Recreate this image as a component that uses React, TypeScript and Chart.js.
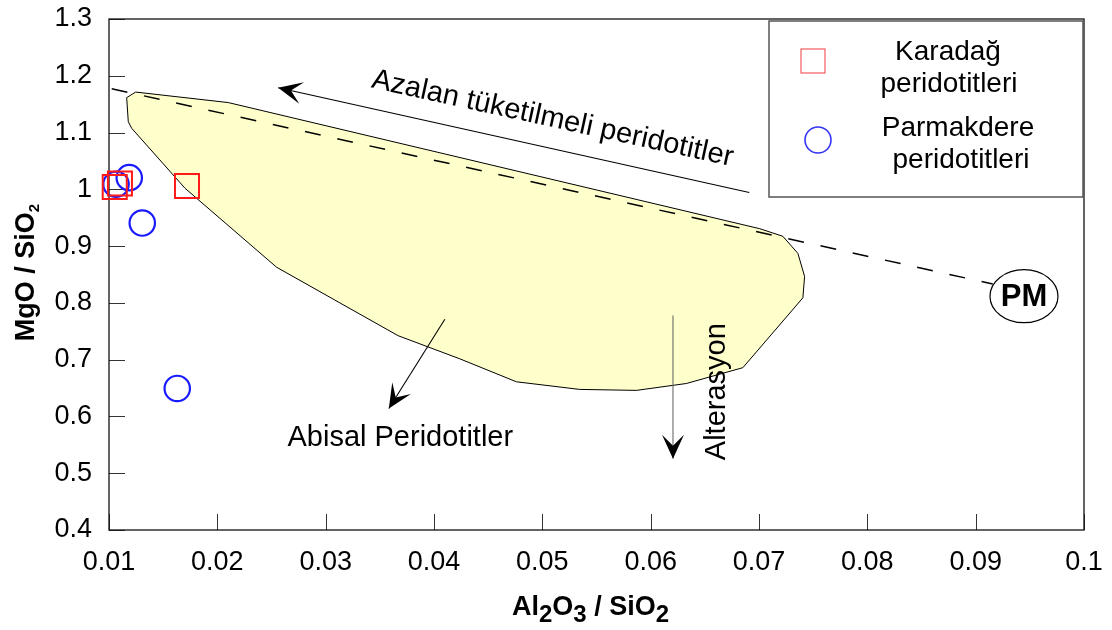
import React, { useEffect, useRef } from 'react';
import { Chart, registerables } from 'chart.js';

Chart.register(...registerables);

const FONT = "'Liberation Sans', Arial, Helvetica, sans-serif";

// ---- tick labels ----
const X_TICK_LABELS = ['0.01', '0.02', '0.03', '0.04', '0.05', '0.06', '0.07', '0.08', '0.09', '0.1'];
const Y_TICK_LABELS = ['0.4', '0.5', '0.6', '0.7', '0.8', '0.9', '1', '1.1', '1.2', '1.3'];

// ---- samples ----
const KARADAG_X = [0.01053, 0.01101, 0.0172];
const KARADAG_Y = [1.0042, 1.0102, 1.006];
const PARMAKDERE_X = [0.01065, 0.01187, 0.01307, 0.0163];
const PARMAKDERE_Y = [1.0089, 1.0206, 0.9406, 0.6493];

// ---- abyssal peridotite field (closed polygon) ----
const ABYSSAL_X = [0.01163, 0.01246, 0.02101, 0.07006, 0.0722, 0.07359, 0.07421, 0.07405, 0.06851, 0.06329, 0.05868, 0.05345, 0.04761, 0.04238, 0.03669, 0.02547, 0.01701, 0.01209, 0.01178, 0.01163];
const ABYSSAL_Y = [1.1615, 1.1713, 1.1528, 0.9307, 0.9173, 0.8872, 0.8466, 0.8089, 0.6859, 0.658, 0.6459, 0.6476, 0.661, 0.7015, 0.7422, 0.8628, 1.002, 1.1076, 1.1191, 1.1615];

// ---- depletion trend towards primitive mantle ----
const TREND_X = [0.01025, 0.09158];
const TREND_Y = [1.1772, 0.8332];
const PM_X = 0.09446;
const PM_Y = 0.8118;

// ---- annotations (data coordinates) ----
const ARROWS = [
  { x1: 0.0691, y1: 0.9945, x2: 0.02562, y2: 1.1789, color: '#000000' },
  { x1: 0.041, y1: 0.7711, x2: 0.03583, y2: 0.614, color: '#000000' },
  { x1: 0.06206, y1: 0.7776, x2: 0.06206, y2: 0.5253, color: '#6a6a6a' },
];
const NOTES = [
  { text: 'Azalan tüketilmeli peridotitler', x: 0.05078, y: 1.1104, angle: 12.3 },
  { text: 'Abisal Peridotitler', x: 0.03689, y: 0.548, angle: 0 },
  { text: 'Alterasyon', x: 0.0669, y: 0.6436, angle: -90 },
];

const toPts = (xs: number[], ys: number[]) => xs.map((x, i) => ({ x, y: ys[i] }));

function arrowHead(ctx: CanvasRenderingContext2D, x1: number, y1: number, x2: number, y2: number) {
  const a = Math.atan2(y2 - y1, x2 - x1);
  const L = 24, W = 11, N = 13;
  ctx.save();
  ctx.translate(x2, y2);
  ctx.rotate(a);
  ctx.beginPath();
  ctx.moveTo(0, 0);
  ctx.lineTo(-L, -W);
  ctx.lineTo(-N, 0);
  ctx.lineTo(-L, W);
  ctx.closePath();
  ctx.fillStyle = '#000';
  ctx.fill();
  ctx.restore();
}

function drawParts(ctx: CanvasRenderingContext2D, parts: [string, boolean][], mainFont: string, subFont: string, subDrop: number, cx: number, baseY: number) {
  let total = 0;
  const widths = parts.map(([t, sub]) => {
    ctx.font = sub ? subFont : mainFont;
    const w = ctx.measureText(t).width;
    total += w;
    return w;
  });
  let x = cx - total / 2;
  ctx.textAlign = 'left';
  ctx.textBaseline = 'alphabetic';
  parts.forEach(([t, sub], i) => {
    ctx.font = sub ? subFont : mainFont;
    ctx.fillText(t, x, baseY + (sub ? subDrop : 0));
    x += widths[i];
  });
}

const decorPlugin = {
  id: 'decor',
  beforeDatasetsDraw(chart: any) {
    const { ctx, chartArea: ca, scales } = chart;
    ctx.save();
    // inward tick marks
    ctx.strokeStyle = '#333';
    ctx.lineWidth = 1;
    scales.y.ticks.forEach((t: any) => {
      const py = Math.round(scales.y.getPixelForValue(t.value)) + 0.5;
      ctx.beginPath();
      ctx.moveTo(ca.left, py);
      ctx.lineTo(ca.left + 16, py);
      ctx.stroke();
    });
    scales.x.ticks.forEach((t: any) => {
      const px = Math.round(scales.x.getPixelForValue(t.value)) + 0.5;
      ctx.beginPath();
      ctx.moveTo(px, ca.bottom);
      ctx.lineTo(px, ca.bottom - 16);
      ctx.stroke();
    });
    // frame
    ctx.strokeStyle = '#111';
    ctx.lineWidth = 1.3;
    ctx.strokeRect(ca.left, ca.top, ca.right - ca.left, ca.bottom - ca.top);
    ctx.restore();
  },
  afterDatasetsDraw(chart: any) {
    const { ctx, chartArea: ca, scales } = chart;
    const X = (v: number) => scales.x.getPixelForValue(v);
    const Y = (v: number) => scales.y.getPixelForValue(v);
    ctx.save();
    // arrows
    ARROWS.forEach((a) => {
      const x1 = X(a.x1), y1 = Y(a.y1), x2 = X(a.x2), y2 = Y(a.y2);
      ctx.strokeStyle = a.color;
      ctx.lineWidth = 1.1;
      ctx.beginPath();
      ctx.moveTo(x1, y1);
      ctx.lineTo(x2, y2);
      ctx.stroke();
      arrowHead(ctx, x1, y1, x2, y2);
    });
    // notes
    ctx.fillStyle = '#000';
    ctx.font = `29px ${FONT}`;
    ctx.textAlign = 'center';
    ctx.textBaseline = 'alphabetic';
    NOTES.forEach((n) => {
      ctx.save();
      ctx.translate(X(n.x), Y(n.y));
      ctx.rotate((n.angle * Math.PI) / 180);
      ctx.fillText(n.text, 0, 0);
      ctx.restore();
    });
    // PM
    const px = X(PM_X), py = Y(PM_Y);
    ctx.beginPath();
    ctx.ellipse(px, py, 34, 26.5, 0, 0, Math.PI * 2);
    ctx.fillStyle = '#fff';
    ctx.fill();
    ctx.strokeStyle = '#000';
    ctx.lineWidth = 1.2;
    ctx.stroke();
    ctx.fillStyle = '#000';
    ctx.font = `bold 31px ${FONT}`;
    ctx.textAlign = 'center';
    ctx.textBaseline = 'middle';
    ctx.fillText('PM', px, py + 1);

    // legend
    const bx = ca.right - 315, by = ca.top + 2, bw = 314, bh = 176;
    ctx.fillStyle = '#fff';
    ctx.fillRect(bx, by, bw, bh);
    ctx.strokeStyle = '#555';
    ctx.lineWidth = 1.5;
    ctx.strokeRect(bx, by, bw, bh);
    const ds = chart.data.datasets;
    // square marker
    ctx.strokeStyle = '#F26a6a';
    ctx.lineWidth = 1.3;
    ctx.strokeRect(bx + 32, by + 28, 24, 24);
    // circle marker
    ctx.strokeStyle = '#3535F5';
    ctx.lineWidth = 1.6;
    ctx.beginPath();
    ctx.arc(bx + 49, by + 119, 13, 0, Math.PI * 2);
    ctx.stroke();
    ctx.fillStyle = '#000';
    ctx.font = `28px ${FONT}`;
    ctx.textAlign = 'center';
    ctx.textBaseline = 'alphabetic';
    const l1 = String(ds[0].label).split(' ');
    const l2 = String(ds[1].label).split(' ');
    ctx.fillText(l1[0], bx + 179, by + 39);
    ctx.fillText(l1[1], bx + 180, by + 71);
    ctx.fillText(l2[0], bx + 189, by + 115);
    ctx.fillText(l2[1], bx + 192, by + 147);

    // axis titles
    drawParts(
      ctx,
      [['Al', false], ['2', true], ['O', false], ['3', true], [' / SiO', false], ['2', true]],
      `bold 27px ${FONT}`,
      `bold 24px ${FONT}`,
      7,
      (ca.left + ca.right) / 2 - 6,
      ca.bottom + 85,
    );
    ctx.save();
    ctx.translate(34, (ca.top + ca.bottom) / 2 - 2);
    ctx.rotate(-Math.PI / 2);
    drawParts(
      ctx,
      [['MgO / SiO', false], ['2', true]],
      `bold 27px ${FONT}`,
      `bold 15px ${FONT}`,
      5,
      0,
      0,
    );
    ctx.restore();
    ctx.restore();
  },
};

export default function App() {
  const ref = useRef<HTMLCanvasElement>(null);
  useEffect(() => {
    if (!ref.current) return;
    Chart.defaults.font.family = FONT;
    const chart = new Chart(ref.current, {
      type: 'scatter',
      data: {
        datasets: [
          {
            label: 'Karadağ peridotitleri',
            data: toPts(KARADAG_X, KARADAG_Y),
            pointStyle: 'rect',
            pointRadius: 17,
            borderColor: '#FF1A1A',
            backgroundColor: 'rgba(0,0,0,0)',
            borderWidth: 2,
            clip: false,
          } as any,
          {
            label: 'Parmakdere peridotitleri',
            data: toPts(PARMAKDERE_X, PARMAKDERE_Y),
            pointStyle: 'circle',
            pointRadius: 12.7,
            borderColor: '#1A1AFF',
            backgroundColor: 'rgba(0,0,0,0)',
            borderWidth: 2.2,
            clip: false,
          } as any,
          {
            label: 'trend',
            data: toPts(TREND_X, TREND_Y),
            showLine: true,
            borderColor: '#000',
            borderWidth: 1.5,
            borderDash: [16, 17],
            pointRadius: 0,
            fill: false,
          } as any,
          {
            label: 'Abisal peridotit alanı',
            data: toPts(ABYSSAL_X, ABYSSAL_Y),
            showLine: true,
            fill: 'shape',
            backgroundColor: '#FFFFCC',
            borderColor: '#000',
            borderWidth: 1,
            pointRadius: 0,
            tension: 0,
          } as any,
        ],
      },
      options: {
        responsive: true,
        maintainAspectRatio: false,
        animation: false,
        events: [],
        layout: { padding: { top: 13, right: 28, left: 0, bottom: 0 } },
        plugins: { legend: { display: false }, tooltip: { enabled: false } },
        scales: {
          x: {
            type: 'linear',
            min: 0.01,
            max: 0.1,
            grid: { display: false, drawTicks: false },
            border: { display: false },
            ticks: {
              stepSize: 0.01,
              autoSkip: false,
              maxRotation: 0,
              padding: 19,
              color: '#000',
              font: { size: 27, lineHeight: 1 },
              callback: (v: any) => X_TICK_LABELS[Math.round((Number(v) - 0.01) / 0.01)] ?? '',
            },
            afterFit: (s: any) => {
              s.height = 100;
              s.paddingLeft = 0;
              s.paddingRight = 0;
            },
          },
          y: {
            type: 'linear',
            min: 0.4,
            max: 1.3,
            grid: { display: false, drawTicks: false },
            border: { display: false },
            ticks: {
              stepSize: 0.1,
              autoSkip: false,
              padding: 17,
              color: '#000',
              font: { size: 27, lineHeight: 1 },
              callback: (v: any) => Y_TICK_LABELS[Math.round((Number(v) - 0.4) / 0.1)] ?? '',
            },
            afterFit: (s: any) => {
              s.width = 109;
              s.paddingTop = 0;
              s.paddingBottom = 0;
            },
          },
        },
      },
      plugins: [decorPlugin],
    });
    return () => chart.destroy();
  }, []);
  return (
    <div style={{ position: 'absolute', left: 0, top: 0, width: 1112, height: 630, background: '#fff' }}>
      <canvas ref={ref} />
    </div>
  );
}
